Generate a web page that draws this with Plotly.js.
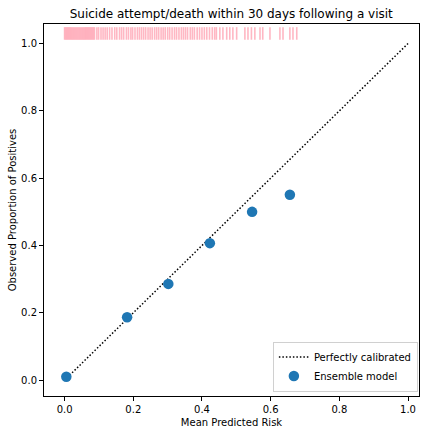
<!DOCTYPE html>
<html>
<head>
<meta charset="utf-8">
<script src="https://cdn.plot.ly/plotly-3.0.1.min.js"></script>
<style>html,body{margin:0;padding:0;background:#fff;}#chart{width:422px;height:430px;}</style>
</head>
<body>
<div id="chart"></div>
<script>
// Calibration points (ensemble model)
const meanPredicted = [0.005, 0.182, 0.302, 0.423, 0.546, 0.656];
const observedProp  = [0.010, 0.187, 0.286, 0.407, 0.500, 0.551];
// Perfect calibration reference
const refX = [0, 1];
const refY = [0, 1];
// Rug of predicted risks
const rugX = [0.000,0.003,0.006,0.009,0.012,0.015,0.018,0.021,0.024,0.027,0.030,0.033,0.036,0.039,0.042,0.045,0.048,0.051,0.054,0.057,0.060,0.063,0.066,0.069,0.072,0.075,0.078,0.081,0.084,0.087,
  0.094,0.099,0.106,0.112,0.118,0.124,0.131,0.138,0.146,0.152,0.160,0.166,0.172,0.180,0.186,0.193,0.198,0.205,0.212,0.218,0.224,0.230,0.236,0.243,0.249,0.255,0.262,0.268,0.274,0.281,0.287,0.293,0.300,0.306,0.313,0.320,0.326,0.333,0.340,0.346,0.352,0.358,0.366,0.372,0.378,0.386,0.393,0.400,0.407,0.414,0.422,0.430,0.437,
  0.442,0.452,0.461,0.472,0.481,0.490,0.501,0.525,0.534,0.544,0.554,0.569,0.577,0.598,0.627,0.636,0.656,0.665,0.676];
const rugY = rugX.map(() => 1.03);

const font = {family: 'DejaVu Sans, sans-serif', size: 10, color: '#000'};

const traces = [
  {x: rugX, y: rugY, type: 'scatter', mode: 'markers', showlegend: false, hoverinfo: 'skip',
   marker: {symbol: 'line-ns', size: 9, color: 'rgba(0,0,0,0)', line: {color: 'rgba(255,170,185,0.85)', width: 1.6}}},
  {x: refX, y: refY, type: 'scatter', mode: 'lines', name: 'Perfectly calibrated',
   line: {color: '#000', width: 1.5, dash: '1.5px,2px'}},
  {x: meanPredicted, y: observedProp, type: 'scatter', mode: 'markers', name: 'Ensemble model',
   marker: {color: '#1f77b4', size: 10.5}}
];

const axisCommon = {showline: true, linecolor: '#000', linewidth: 1, mirror: true, ticks: 'outside',
  ticklen: 4, tickwidth: 1, tickcolor: '#000', showgrid: false, zeroline: false, tickfont: font};

const layout = {
  width: 422, height: 430,
  margin: {l: 44, r: 3, t: 24, b: 34},
  paper_bgcolor: '#fff', plot_bgcolor: '#fff',
  font: font,
  title: {text: 'Suicide attempt/death within 30 days following a visit', font: {family: 'DejaVu Sans, sans-serif', size: 12, color: '#000'}, x: 0.548, xanchor: 'center', y: 0.968, yanchor: 'middle'},
  xaxis: Object.assign({}, axisCommon, {range: [-0.06, 1.032], tickvals: [0,0.2,0.4,0.6,0.8,1.0], ticktext: ['0.0','0.2','0.4','0.6','0.8','1.0'],
    title: {text: 'Mean Predicted Risk', font: font, standoff: 4}}),
  yaxis: Object.assign({}, axisCommon, {range: [-0.047, 1.058], tickvals: [0,0.2,0.4,0.6,0.8,1.0], ticktext: ['0.0','0.2','0.4','0.6','0.8','1.0'],
    title: {text: 'Observed Proportion of Positives', font: font, standoff: 2}}),
  legend: {x: 0.997, xanchor: 'right', y: 0.012, yanchor: 'bottom', bordercolor: '#d0d0d0', borderwidth: 1,
    bgcolor: 'rgba(255,255,255,0.8)', font: font, tracegroupgap: 0, itemwidth: 30},
  showlegend: true
};

Plotly.newPlot('chart', traces, layout, {displayModeBar: false, staticPlot: true});
</script>
</body>
</html>
